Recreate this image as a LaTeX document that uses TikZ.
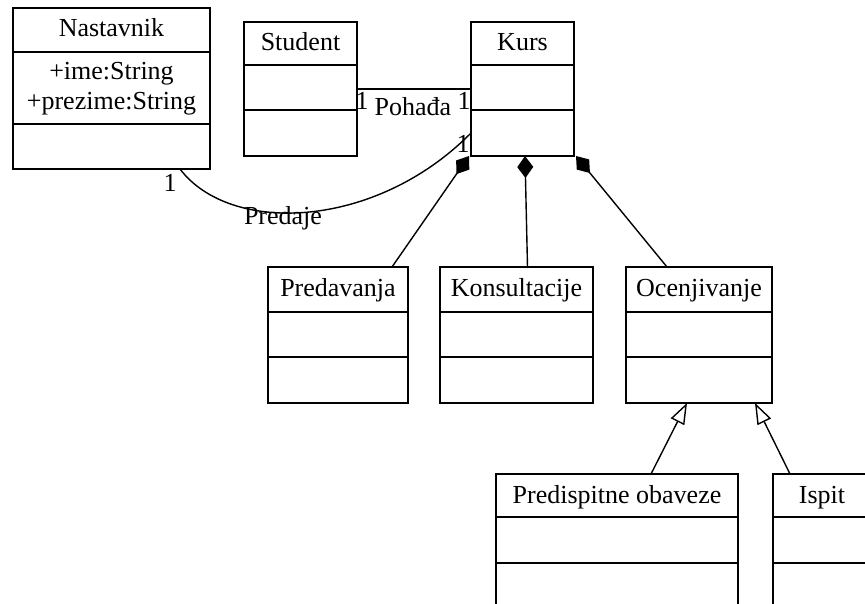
\documentclass[tikz,border=0pt]{standalone}
\usepackage{fontspec}
\setmainfont{Liberation Serif}
\usetikzlibrary{arrows.meta,calc}

\tikzset{
  classbox/.style={draw, line width=1.7pt, inner sep=0pt, outer sep=0pt},
  classline/.style={line width=1.7pt},
  lbl/.style={inner sep=0pt, anchor=base, font=\fontsize{26}{31}\selectfont},
  assoc/.style={line width=1.4pt},
  comp/.style={line width=1.4pt, {Diamond[length=22pt,width=16pt,fill=black]}-},
  gen/.style={line width=1.4pt, -{Triangle[length=21pt,width=15pt,fill=white]}},
}

% UML class: name, left, top, right, first separator, second separator, bottom, title
\newcommand\umlclass[8]{%
  \node[classbox, minimum width={(#4-#2)*1pt}, minimum height={(#7-#3)*1pt},
        anchor=north west] (#1) at (#2,#3) {};
  \node[lbl] (#1-title) at ({(#2+#4)/2},{#3+29}) {#8};
  \draw[classline] (#2,#5) -- (#4,#5);
  \draw[classline] (#2,#6) -- (#4,#6);
}

\begin{document}
\begin{tikzpicture}[x=1pt,y=-1pt]
  \useasboundingbox (0,0) rectangle (865,604);
  \clip (0,0) rectangle (865,604);

  % classes
  \umlclass{Nastavnik}{13}{8}{210}{52}{124}{169}{Nastavnik}
  \node[lbl] (ime) at (111.5,80) {+ime:String};
  \node[lbl] (prezime) at (111.5,110) {+prezime:String};
  \umlclass{Student}{244}{22}{357}{65}{110}{156}{Student}
  \umlclass{Kurs}{471}{22}{574}{65}{110}{156}{Kurs}
  \umlclass{Predavanja}{268}{267}{408}{312}{357}{403}{Predavanja}
  \umlclass{Konsultacije}{440}{267}{593}{312}{357}{403}{Konsultacije}
  \umlclass{Ocenjivanje}{626}{267}{772}{312}{357}{403}{Ocenjivanje}
  \umlclass{Predispitne}{496}{474}{738}{517}{563}{640}{Predispitne obaveze}
  \umlclass{Ispit}{773}{474}{871}{517}{563}{640}{Ispit}

  % association Student -- Kurs
  \draw[assoc] (Student.east) -- (Kurs.west);
  \node[lbl] (pohMulA) at (362,110) {1};
  \node[lbl] (pohName) at (413,116) {Pohađa};
  \node[lbl] (pohMulB) at (464,110) {1};

  % association Nastavnik -- Kurs
  \draw[assoc] ([xshift=-30pt]Nastavnik.south east)
    .. controls (230,235) and (375,230) .. ([yshift=23pt]Kurs.south west);
  \node[lbl] (preMulA) at (170,192) {1};
  \node[lbl] (preName) at (283,225) {Predaje};
  \node[lbl] (preMulB) at (463,153) {1};

  % compositions
  \draw[comp] ([xshift=-2pt]Kurs.south west) -- ([xshift=54pt]Predavanja.north);
  \draw[comp] ([xshift=2.5pt]Kurs.south) -- ([xshift=11pt]Konsultacije.north);
  \draw[comp] ([xshift=2pt]Kurs.south east) -- ([xshift=-32pt]Ocenjivanje.north);

  % generalizations
  \draw[gen] ([xshift=34pt]Predispitne.north) -- ([xshift=-12pt]Ocenjivanje.south);
  \draw[gen] ([xshift=17pt]Ispit.north west) -- ([xshift=56pt]Ocenjivanje.south);
\end{tikzpicture}
\end{document}
